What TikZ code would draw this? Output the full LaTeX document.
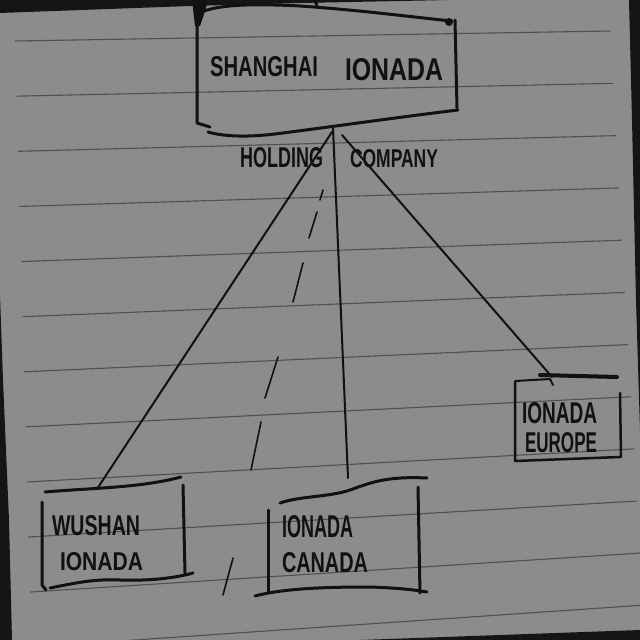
\documentclass[tikz,border=0pt]{standalone}
\usepackage{fontspec}
\usepackage{graphicx}
\setmainfont{Liberation Sans}
\definecolor{paper}{HTML}{8C8C8C}
\definecolor{rulecol}{HTML}{505050}
\definecolor{ink}{HTML}{111111}
\definecolor{edgecol}{HTML}{151515}
\newcommand{\hwbox}[3]{\resizebox{#1pt}{#2pt}{\bfseries #3}}
\tikzset{
  inkbox/.style={draw=ink, line width=3pt, line cap=round, line join=round},
  inkline/.style={draw=ink, line width=2pt, line cap=round},
  dashink/.style={draw=ink, line width=1.6pt, line cap=round},
  ruled/.style={draw=rulecol, line width=1.1pt},
  hand/.style={inner sep=0pt, outer sep=0pt, text=ink, anchor=base west},
}
\begin{document}
\begin{tikzpicture}[x=1pt,y=-1pt]
\useasboundingbox (0,0) rectangle (640,640);
\fill[paper] (0,0) rectangle (640,640);
% ruled lines of the paper
\foreach \k in {0,...,11} {
  \pgfmathsetmacro{\yl}{41+55.2*\k}
  \pgfmathsetmacro{\yr}{31+52.4*\k}
  \pgfmathsetmacro{\xs}{15+1.5*\k}
  \pgfmathsetmacro{\xe}{min(640,610+3*\k)}
  \pgfmathsetmacro{\sl}{(\yr-\yl)/595}
  \pgfmathsetmacro{\ys}{\yl+\sl*(\xs-15)}
  \pgfmathsetmacro{\ye}{\yl+\sl*(\xe-15)}
  \draw[ruled] (\xs,\ys) -- (\xe,\ye);
}
% dark edges of the photo
\fill[edgecol] (0,0) -- (450,0) -- (300,3) -- (190,6) -- (0,13) -- cycle;
\fill[edgecol] (629,0) -- (640,0) -- (640,430) -- (636,300) -- (632,120) -- cycle;
\fill[edgecol] (0,295) -- (3,380) -- (9,520) -- (12,640) -- (0,640) -- cycle;
\fill[edgecol] (360,640) -- (640,630) -- (640,640) -- cycle;

% ---------- top box: SHANGHAI IONADA ----------
\fill[ink] (192,0) -- (207,0) -- (206,8) -- (200,26) -- (195,26) -- cycle;
\draw[inkbox] (195,15) .. controls (215,3) and (260,4) .. (300,6) .. controls (360,10) and (420,18) .. (452,21);
\fill[ink] (449,22) circle (4);
\draw[inkbox] (197,8) -- (197,123) -- (210,127);
\draw[inkbox] (455,20) -- (457,108);
\draw[inkbox] (208,132) .. controls (225,137) and (250,137) .. (275,134) .. controls (330,127) and (400,117) .. (458,110);
\draw[ink, line width=3pt, line cap=round] (314,0) -- (317,5);
\node[hand] (hq1) at (210,76) {\hwbox{108}{20}{SHANGHAI}};
\node[hand] (hq2) at (345,80) {\hwbox{98}{22}{IONADA}};
\node[hand] (hold1) at (240,167) {\hwbox{83}{20}{HOLDING}};
\node[hand] (hold2) at (350,167) {\hwbox{88}{18}{COMPANY}};

% ---------- WUSHAN IONADA ----------
\draw[inkbox] (45,492) .. controls (90,488) and (140,488) .. (181,477);
\draw[inkbox] (183,485) -- (185,573);
\draw[inkbox] (42,502) -- (42,585) -- (46,590);
\draw[inkbox] (50,588) .. controls (80,582) and (95,579) .. (120,580) .. controls (150,581) and (175,578) .. (193,573);
\node[hand] (wu1) at (52,535) {\hwbox{88}{20}{WUSHAN}};
\node[hand] (wu2) at (60,570) {\hwbox{83}{18}{IONADA}};

% ---------- IONADA CANADA ----------
\draw[inkbox] (280,503) .. controls (300,496) and (330,497) .. (350,490) .. controls (370,483) and (385,476) .. (427,478);
\draw[inkbox] (268,510) -- (268,592);
\draw[inkbox] (255,596) .. controls (285,588) and (330,587) .. (370,587) .. controls (400,588) and (415,590) .. (427,592);
\draw[inkbox] (418,487) -- (420,593);
\node[hand] (ca1) at (282,537) {\hwbox{71}{22}{IONADA}};
\node[hand] (ca2) at (282,572) {\hwbox{86}{20}{CANADA}};

% ---------- IONADA EUROPE ----------
\draw[ink, line width=4pt, line cap=round] (540,375) -- (617,377);
\draw[inkbox, line width=2pt] (515,381) -- (550,379) -- (553,385);
\draw[inkbox, line width=2.5pt] (515,382) -- (515,461) -- (620,457);
\draw[inkbox, line width=2.5pt] (620,393) -- (621,457);
\node[hand] (eu1) at (522,423) {\hwbox{75}{21}{IONADA}};
\node[hand] (eu2) at (525,452) {\hwbox{72}{20}{EUROPE}};

% ---------- connectors ----------
\coordinate (hqC) at (333,128);
\coordinate (hqL) at (332,132);
\coordinate (hqR) at (342,135);
\coordinate (wuT) at (97,489);
\coordinate (caT) at (348,478);
\coordinate (euT) at (552,377);
\draw[inkline] (hqL) -- (wuT);
\draw[inkline] (hqC) -- (caT);
\draw[inkline] (hqR) -- (euT);

% dashed hand line
\foreach \a/\b/\c/\d in {323/190/320/200, 317/212/309/238, 303/263/293/302, 278/357/265/398, 261/422/251/470, 233/558/223/595} {
  \draw[dashink] (\a,\b) -- (\c,\d);
}
\end{tikzpicture}
\end{document}
